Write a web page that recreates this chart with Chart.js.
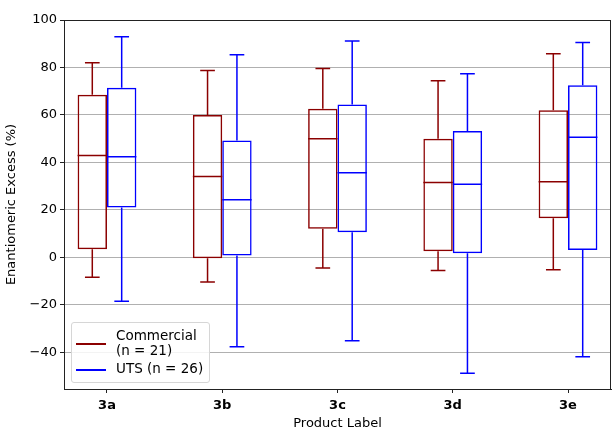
<!DOCTYPE html>
<html>
<head>
<meta charset="utf-8">
<script src="https://cdn.jsdelivr.net/npm/chart.js@4"></script>
<style>
  body { margin: 0; background: #fff; }
  #wrap { position: relative; width: 613px; height: 430px; }
  #legend {
    position: absolute; left: 71px; top: 322px; width: 137px; height: 59px;
    border: 1px solid #d6d6d6; border-radius: 3px; background: rgba(255,255,255,0.85);
    font-family: "DejaVu Sans", sans-serif; font-size: 13.5px; color: #000;
  }
  .item { position: absolute; left: 0; }
  .item .swatch { position: absolute; left: 4px; width: 30px; height: 0; border-top: 2px solid; }
  .item .lbl { position: absolute; left: 44px; line-height: 15px; white-space: nowrap; }
</style>
</head>
<body>
<div id="wrap">
  <canvas id="chart" width="613" height="430"></canvas>
  <div id="legend">
    <div class="item" style="top:0">
      <div class="swatch" style="top:20px; border-color:#8B0000"></div>
      <div class="lbl" style="top:5px">Commercial<br>(n = 21)</div>
    </div>
    <div class="item" style="top:0">
      <div class="swatch" style="top:46px; border-color:#0000FF"></div>
      <div class="lbl" style="top:38px">UTS (n = 26)</div>
    </div>
  </div>
</div>
<script>
// =============================================
// Enantiomeric excess box plots (Commercial vs UTS)
// =============================================
const categories = ['3a', '3b', '3c', '3d', '3e'];
const yTicks = [-40, -20, 0, 20, 40, 60, 80, 100];

// Commercial (n = 21)
const commercialMin = [-8.4, -10.4, -4.5, -5.6, -5.2];
const commercialQ1  = [3.4, -0.4, 12.0, 2.5, 16.5];
const commercialMed = [42.9, 34.0, 50.0, 31.5, 31.8];
const commercialQ3  = [68.5, 60.0, 62.6, 50.0, 62.0];
const commercialMax = [82.0, 78.7, 79.6, 74.4, 85.8];

// UTS (n = 26)
const utsMin = [-18.5, -37.7, -35.2, -48.9, -41.9];
const utsQ1  = [21.0, 0.8, 10.6, 1.7, 3.1];
const utsMed = [42.4, 24.2, 35.6, 30.8, 50.6];
const utsQ3  = [71.4, 49.2, 64.4, 53.2, 72.5];
const utsMax = [92.9, 85.4, 91.2, 77.3, 90.5];

const FONT = '"DejaVu Sans", sans-serif';

function boxData(q1, q3) {
  return categories.map((c, i) => ({ x: i, y: [q1[i], q3[i]] }));
}

// draws medians, whiskers and caps on top of the floating bars
const whiskerPlugin = {
  id: 'whiskers',
  afterDatasetsDraw(chart) {
    const ctx = chart.ctx;
    const yScale = chart.scales.y;
    chart.data.datasets.forEach((ds, di) => {
      const meta = chart.getDatasetMeta(di);
      ctx.save();
      ctx.strokeStyle = ds.borderColor;
      ctx.lineWidth = 1.5;
      meta.data.forEach((el, i) => {
        const half = el.width / 2;
        const x = el.x;
        const yMed = yScale.getPixelForValue(ds.median[i]);
        const yQ1 = yScale.getPixelForValue(ds.q1[i]);
        const yQ3 = yScale.getPixelForValue(ds.q3[i]);
        const yLo = yScale.getPixelForValue(ds.low[i]);
        const yHi = yScale.getPixelForValue(ds.high[i]);
        ctx.beginPath();
        ctx.moveTo(x - half, yMed); ctx.lineTo(x + half, yMed);
        ctx.moveTo(x, yQ3); ctx.lineTo(x, yHi);
        ctx.moveTo(x - half / 2, yHi); ctx.lineTo(x + half / 2, yHi);
        ctx.moveTo(x, yQ1); ctx.lineTo(x, yLo);
        ctx.moveTo(x - half / 2, yLo); ctx.lineTo(x + half / 2, yLo);
        ctx.stroke();
      });
      ctx.restore();
    });
    // full frame around the axes
    const a = chart.chartArea;
    ctx.save();
    ctx.strokeStyle = '#222';
    ctx.lineWidth = 1;
    ctx.strokeRect(Math.round(a.left) + 0.5, Math.round(a.top) + 0.5,
                   Math.round(a.right - a.left) - 1, Math.round(a.bottom - a.top));
    ctx.restore();
  }
};

new Chart(document.getElementById('chart').getContext('2d'), {
  type: 'bar',
  data: {
    datasets: [
      {
        label: 'Commercial (n = 21)',
        data: boxData(commercialQ1, commercialQ3),
        q1: commercialQ1, q3: commercialQ3, median: commercialMed,
        low: commercialMin, high: commercialMax,
        borderColor: '#8B0000',
        backgroundColor: 'rgba(255,255,255,0)',
        borderWidth: 1.5,
        borderSkipped: false
      },
      {
        label: 'UTS (n = 26)',
        data: boxData(utsQ1, utsQ3),
        q1: utsQ1, q3: utsQ3, median: utsMed,
        low: utsMin, high: utsMax,
        borderColor: '#0000FF',
        backgroundColor: 'rgba(255,255,255,0)',
        borderWidth: 1.5,
        borderSkipped: false
      }
    ]
  },
  options: {
    responsive: false,
    animation: false,
    categoryPercentage: 0.51,
    barPercentage: 1.0,
    layout: { padding: { top: 20, right: 2, left: 0, bottom: 0 } },
    plugins: { legend: { display: false }, tooltip: { enabled: false } },
    scales: {
      x: {
        type: 'linear',
        offset: false,
        min: -0.373,
        max: 4.373,
        afterBuildTicks: (scale) => { scale.ticks = categories.map((c, i) => ({ value: i })); },
        afterFit: (scale) => { scale.height = 41; },
        ticks: {
          callback: (v) => categories[v],
          font: { family: FONT, size: 13, weight: 'bold' },
          color: '#000',
          padding: 5,
          maxRotation: 0
        },
        grid: { offset: false, drawOnChartArea: false, drawTicks: true, tickLength: 4, tickColor: '#222' },
        border: { color: '#222' },
        title: {
          display: true, text: 'Product Label',
          font: { family: FONT, size: 13, lineHeight: 1 }, color: '#000',
          padding: { top: 0, bottom: 0 }
        }
      },
      y: {
        min: -55.5,
        max: 100,
        afterBuildTicks: (scale) => { scale.ticks = yTicks.map(v => ({ value: v })); },
        afterFit: (scale) => { scale.width = 64; },
        ticks: {
          callback: (v) => (v < 0 ? '\u2212' + Math.abs(v) : String(v)),
          font: { family: FONT, size: 13 },
          color: '#000',
          padding: 3
        },
        grid: { color: '#b0b0b0', lineWidth: 1, tickLength: 4, tickColor: '#222' },
        border: { color: '#222' },
        title: {
          display: true, text: 'Enantiomeric Excess (%)',
          font: { family: FONT, size: 13 }, color: '#000',
          padding: { top: 4, bottom: 0 }
        }
      }
    }
  },
  plugins: [whiskerPlugin]
});
</script>
</body>
</html>
